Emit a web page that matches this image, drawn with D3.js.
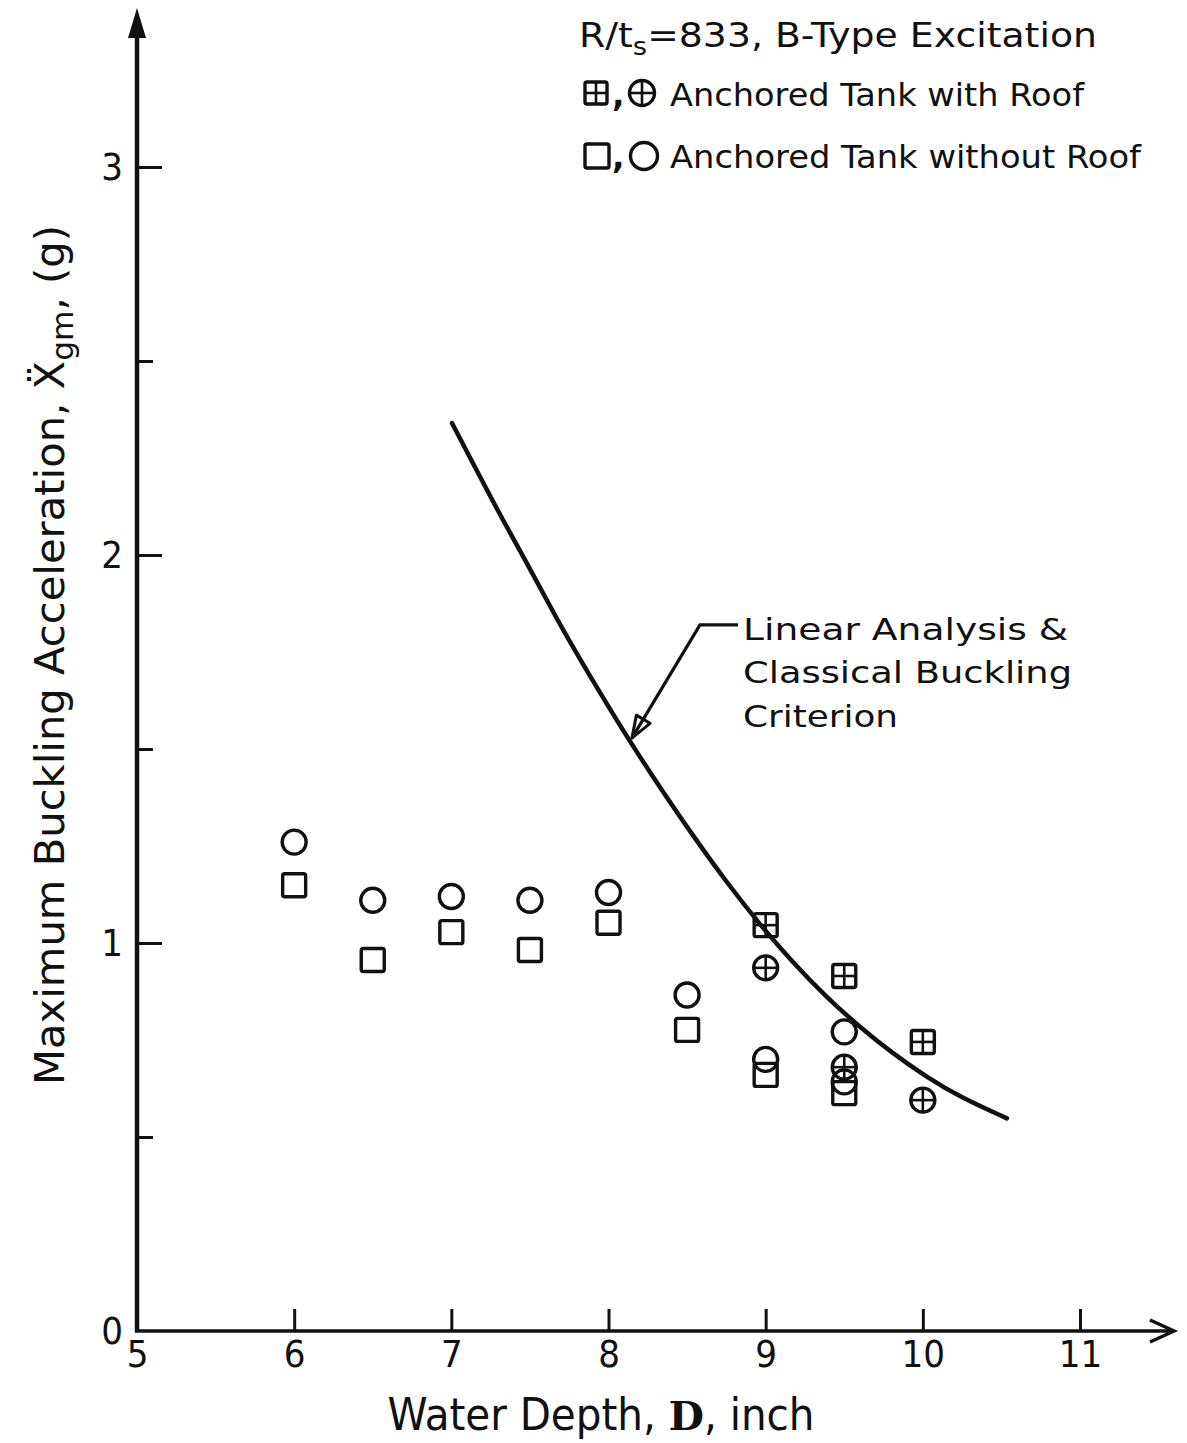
<!DOCTYPE html>
<html>
<head>
<meta charset="utf-8">
<script src="https://cdn.jsdelivr.net/npm/d3@7"></script>
<style>
  html, body { margin: 0; padding: 0; background: #fff; }
  svg { display: block; }
  text { fill: #111; }
</style>
</head>
<body>
<svg id="chart" width="1187" height="1443"></svg>
<script>
// ---------------- DATA ----------------
const xTickValues = [5, 6, 7, 8, 9, 10, 11];
const xTickLabels = ["5", "6", "7", "8", "9", "10", "11"];
const yMajorTicks = [0, 1, 2, 3];
const yMajorLabels = ["0", "1", "2", "3"];
const yMinorTicks = [0.5, 1.5, 2.5];

// Anchored tank without roof
const noRoofCircleX = [6, 6.5, 7, 7.5, 8, 8.5, 9, 9.5, 9.5];
const noRoofCircleY = [1.26, 1.11, 1.12, 1.11, 1.13, 0.866, 0.70, 0.771, 0.642];
const noRoofSquareX = [6, 6.5, 7, 7.5, 8, 8.5, 9, 9.5];
const noRoofSquareY = [1.149, 0.956, 1.028, 0.982, 1.052, 0.776, 0.66, 0.613];

// Anchored tank with roof
const roofSquareX = [9, 9.5, 10];
const roofSquareY = [1.046, 0.915, 0.745];
const roofCircleX = [9, 9.5, 10];
const roofCircleY = [0.936, 0.68, 0.595];

// Linear analysis & classical buckling criterion curve
const curveX = [7.004, 7.182, 7.329, 7.507, 7.672, 7.838, 8.010, 8.181, 8.328, 8.538, 8.754, 8.964, 9.174, 9.390, 9.600, 9.810, 10.026, 10.236, 10.535];
const curveY = [2.340, 2.202, 2.089, 1.960, 1.834, 1.718, 1.602, 1.491, 1.401, 1.276, 1.155, 1.047, 0.949, 0.859, 0.783, 0.715, 0.654, 0.603, 0.548];

const annotationLines = ["Linear Analysis &", "Classical Buckling", "Criterion"];
const legendTitle = ["R/t", "s", "=833, B-Type  Excitation"];
const legendLabels = ["Anchored Tank with Roof", "Anchored Tank without Roof"];
const xTitle = ["Water Depth, ", "D", ", inch"];
const yTitle = ["Maximum Buckling Acceleration, ", "Ẍ", "gm", ", (g)"];

// ---------------- CHART ----------------
const svg = d3.select("#chart");
const INK = "#111";
const x = d3.scaleLinear().domain([5, 11]).range([137, 1080]);
const y = d3.scaleLinear().domain([0, 3]).range([1331, 167]);
const narrow = "'Liberation Sans Narrow','DejaVu Sans Condensed','Liberation Sans',sans-serif";
const sans = "'DejaVu Sans','Liberation Sans',sans-serif";

// Y axis line with filled arrow
svg.append("line").attr("x1", x(5)).attr("x2", x(5)).attr("y1", y(0) + 1).attr("y2", 30)
  .attr("stroke", INK).attr("stroke-width", 4.5);
svg.append("path").attr("d", `M${x(5)},8 L${x(5) - 9},38 L${x(5) + 9},38 Z`).attr("fill", INK);

// X axis line with open chevron arrow
svg.append("line").attr("x1", x(5) - 2).attr("x2", 1172).attr("y1", y(0)).attr("y2", y(0))
  .attr("stroke", INK).attr("stroke-width", 3.5);
svg.append("path").attr("d", `M1150,${y(0) - 11} L1174,${y(0)} L1150,${y(0) + 11}`)
  .attr("fill", "none").attr("stroke", INK).attr("stroke-width", 3.5);

// Y axis major ticks + labels
const yAxisMajor = svg.append("g").attr("transform", `translate(${x(5)},0)`)
  .call(d3.axisLeft(y).tickValues(yMajorTicks).tickFormat((d, i) => yMajorLabels[i])
    .tickSizeInner(-25).tickSizeOuter(0).tickPadding(14));
yAxisMajor.select(".domain").remove();
yAxisMajor.selectAll(".tick line").attr("stroke", INK).attr("stroke-width", 3);
yAxisMajor.selectAll(".tick").filter(d => d === 0).select("line").remove();
yAxisMajor.selectAll(".tick text").attr("font-family", narrow).attr("font-size", 38).attr("fill", INK);

// Y axis minor ticks
const yAxisMinor = svg.append("g").attr("transform", `translate(${x(5)},0)`)
  .call(d3.axisLeft(y).tickValues(yMinorTicks).tickFormat("").tickSizeInner(-16).tickSizeOuter(0));
yAxisMinor.select(".domain").remove();
yAxisMinor.selectAll(".tick line").attr("stroke", INK).attr("stroke-width", 3);

// X axis ticks + labels
const xAxis = svg.append("g").attr("transform", `translate(0,${y(0)})`)
  .call(d3.axisBottom(x).tickValues(xTickValues).tickFormat((d, i) => xTickLabels[i])
    .tickSizeInner(-22).tickSizeOuter(0).tickPadding(9));
xAxis.select(".domain").remove();
xAxis.selectAll(".tick line").attr("stroke", INK).attr("stroke-width", 3);
xAxis.selectAll(".tick").filter(d => d === 5).select("line").remove();
xAxis.selectAll(".tick text").attr("font-family", narrow).attr("font-size", 38).attr("fill", INK);

// Axis titles
const xt = svg.append("text").attr("x", 601).attr("y", 1430).attr("text-anchor", "middle")
  .attr("font-family", narrow).attr("font-size", 44)
  .attr("textLength", 427).attr("lengthAdjust", "spacingAndGlyphs");
xt.append("tspan").text(xTitle[0]);
xt.append("tspan").attr("font-family", "'DejaVu Serif','Liberation Serif',serif").attr("font-weight", "bold").attr("font-size", 40).text(xTitle[1]);
xt.append("tspan").text(xTitle[2]);

const yt = svg.append("text").attr("transform", "translate(64,655) rotate(-90)").attr("text-anchor", "middle")
  .attr("font-family", sans).attr("font-size", 40)
  .attr("textLength", 860).attr("lengthAdjust", "spacingAndGlyphs");
yt.append("tspan").text(yTitle[0]);
yt.append("tspan").text(yTitle[1]);
yt.append("tspan").attr("font-size", 30).attr("dy", 9).text(yTitle[2]);
yt.append("tspan").attr("dy", -9).text(yTitle[3]);

// Curve
const line = d3.line().x(d => x(d[0])).y(d => y(d[1])).curve(d3.curveBasis);
svg.append("path").datum(curveX.map((v, i) => [v, curveY[i]]))
  .attr("d", line).attr("fill", "none").attr("stroke", INK).attr("stroke-width", 4.5)
  .attr("stroke-linecap", "round");

// Markers
function marker(g, type, cx, cy, s) {
  const sw = 3.4;
  if (type === "square" || type === "sqcross") {
    g.append("rect").attr("x", cx - s).attr("y", cy - s).attr("width", 2 * s).attr("height", 2 * s)
      .attr("rx", 2).attr("fill", "none").attr("stroke", INK).attr("stroke-width", sw);
  } else {
    g.append("circle").attr("cx", cx).attr("cy", cy).attr("r", s)
      .attr("fill", "none").attr("stroke", INK).attr("stroke-width", sw);
  }
  if (type === "sqcross" || type === "circross") {
    g.append("line").attr("x1", cx - s).attr("x2", cx + s).attr("y1", cy).attr("y2", cy)
      .attr("stroke", INK).attr("stroke-width", 2.6);
    g.append("line").attr("x1", cx).attr("x2", cx).attr("y1", cy - s).attr("y2", cy + s)
      .attr("stroke", INK).attr("stroke-width", 2.6);
  }
}
const mk = svg.append("g");
noRoofSquareX.forEach((v, i) => marker(mk, "square", x(v), y(noRoofSquareY[i]), 11.5));
noRoofCircleX.forEach((v, i) => marker(mk, "circle", x(v), y(noRoofCircleY[i]), 12));
roofSquareX.forEach((v, i) => marker(mk, "sqcross", x(v), y(roofSquareY[i]), 11.5));
roofCircleX.forEach((v, i) => marker(mk, "circross", x(v), y(roofCircleY[i]), 12));

// Annotation leader with arrow
const tip = [x(8.149), y(1.528)], corner = [x(8.582), y(1.82)], end = [x(8.824), y(1.82)];
svg.append("path").attr("d", `M${end[0]},${end[1]} L${corner[0]},${corner[1]} L${tip[0]},${tip[1]}`)
  .attr("fill", "none").attr("stroke", INK).attr("stroke-width", 3.2);
{
  const ang = Math.atan2(tip[1] - corner[1], tip[0] - corner[0]);
  const L = 22, W = 8;
  const bx = tip[0] - L * Math.cos(ang), by = tip[1] - L * Math.sin(ang);
  const px = -Math.sin(ang) * W, py = Math.cos(ang) * W;
  svg.append("path").attr("d", `M${tip[0]},${tip[1]} L${bx + px},${by + py} L${bx - px},${by - py} Z`)
    .attr("fill", "none").attr("stroke", INK).attr("stroke-width", 3).attr("stroke-linejoin", "round");
}
const annBase = [1.781, 1.670, 1.557];
const annLen = [325, 329, 155];
annotationLines.forEach((t, i) => {
  svg.append("text").attr("x", x(8.856)).attr("y", y(annBase[i]))
    .attr("font-family", sans).attr("font-size", 31)
    .attr("textLength", annLen[i]).attr("lengthAdjust", "spacingAndGlyphs").text(t);
});

// Legend
const lg = svg.append("g");
const t1 = lg.append("text").attr("x", 579).attr("y", 47).attr("font-family", sans).attr("font-size", 33)
  .attr("textLength", 518).attr("lengthAdjust", "spacingAndGlyphs");
t1.append("tspan").text(legendTitle[0]);
t1.append("tspan").attr("font-size", 24).attr("dy", 8).text(legendTitle[1]);
t1.append("tspan").attr("dy", -8).text(legendTitle[2]);

marker(lg, "sqcross", 596, 93, 11);
lg.append("text").attr("x", 612).attr("y", 106).attr("font-family", sans).attr("font-weight", "bold").attr("font-size", 33).text(",");
marker(lg, "circross", 642, 93, 12.5);
lg.append("text").attr("x", 670).attr("y", 106).attr("font-family", sans).attr("font-size", 32)
  .attr("textLength", 414).attr("lengthAdjust", "spacingAndGlyphs").text(legendLabels[0]);

marker(lg, "square", 597, 156, 12);
lg.append("text").attr("x", 612).attr("y", 168).attr("font-family", sans).attr("font-weight", "bold").attr("font-size", 33).text(",");
marker(lg, "circle", 644, 156, 13.5);
lg.append("text").attr("x", 670).attr("y", 168).attr("font-family", sans).attr("font-size", 32)
  .attr("textLength", 471).attr("lengthAdjust", "spacingAndGlyphs").text(legendLabels[1]);
</script>
</body>
</html>
